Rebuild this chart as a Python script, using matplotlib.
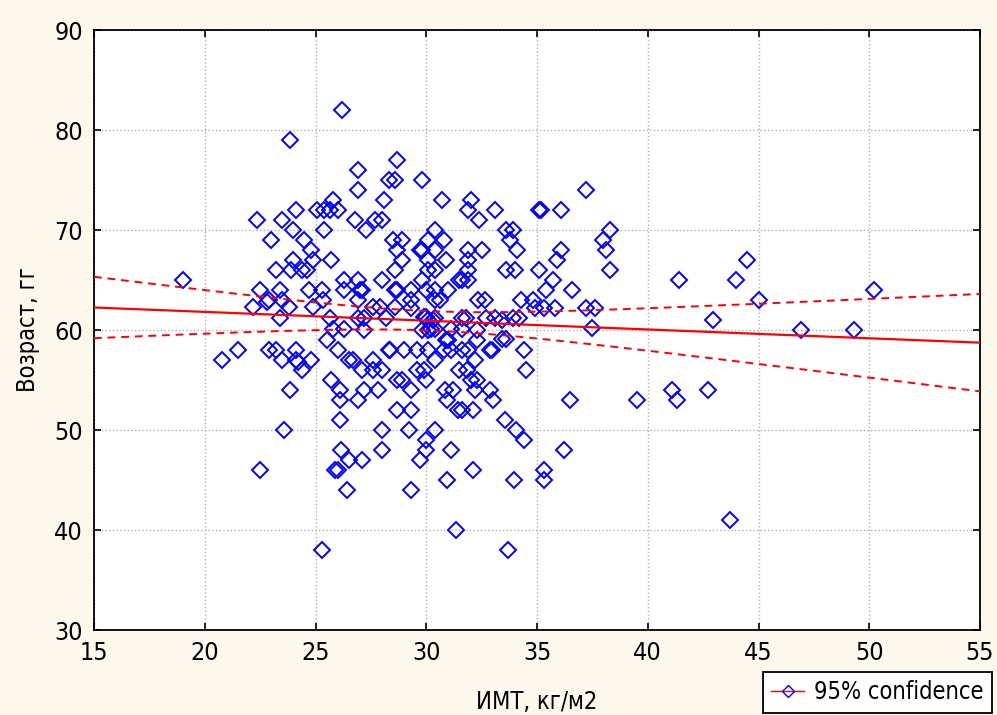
import numpy as np
import matplotlib
matplotlib.use("Agg")
from matplotlib import pyplot as plt
from matplotlib.lines import Line2D

# ИМТ (x) / возраст (y)
imt = [28.7, 26.9, 28.3, 28.6, 29.8, 26.9, 28.1, 25.8, 25.05, 25.4, 25.65, 26.0, 24.1,
       22.35, 23.5, 26.8, 27.7, 28.0, 24.0, 25.4, 27.3, 29.7, 29.8, 23.0, 24.5, 28.5,
       28.9, 24.8, 28.7, 24.0, 24.9, 25.7, 28.9, 23.2, 23.9, 24.4, 24.6, 28.6, 29.8,
       26.3, 26.9, 28.0, 22.5, 23.4, 24.7, 25.3, 26.3, 27.0, 27.1, 28.6, 28.7, 29.3,
       22.9, 23.5, 25.35, 26.9, 29.3, 22.2, 23.8, 24.9, 27.6, 27.9, 28.6, 23.4, 25.65,
       26.9, 27.2, 28.2, 29.9, 30.0, 26.3, 25.8, 27.2, 25.5, 29.8, 30.1, 22.8,
       20.8, 21.5, 22.9, 23.2, 24.1, 23.5, 24.1, 24.2, 24.8, 24.4, 23.85, 23.6, 22.5,
       25.3, 26.0, 26.5, 26.7, 27.6, 27.1, 27.6, 28.0, 28.3, 28.35, 29.0, 29.6, 30.1,
       25.7, 26.1, 27.2, 27.8, 26.1, 26.9, 28.7, 28.9, 29.6, 29.9, 30.0, 29.3, 26.1,
       28.7, 29.3, 28.0, 29.2, 30.0, 30.0, 26.15, 28.0, 26.5, 27.1, 29.7, 25.9, 26.0,
       26.4, 29.3,
       30.7, 32.0, 31.9, 33.1, 32.4, 35.1, 35.2, 36.1, 37.2, 30.4, 33.6, 33.9, 38.3,
       30.1, 30.8, 33.8, 38.0, 30.4, 31.9, 32.5, 34.1, 36.1, 38.1, 30.1, 30.9, 31.9,
       35.9, 30.1, 30.4, 31.9, 33.6, 34.0, 35.1, 38.3, 31.5, 31.6, 31.9, 35.7, 30.0,
       30.4, 31.0, 35.4, 36.6, 30.4, 30.6, 32.35, 32.65, 34.3, 34.8, 34.9, 35.3, 35.8,
       37.2, 37.6, 29.3, 30.4, 31.6, 31.8, 32.7, 33.1, 33.9, 34.2, 37.5, 30.4, 31.1,
       31.6, 31.0, 32.3, 33.4, 33.6,
       30.8, 31.1, 31.6, 31.9, 32.9, 32.95, 34.4, 32.2, 30.4, 31.5, 31.85, 32.0, 32.3,
       34.5, 30.85, 31.2, 32.2, 32.9, 30.95, 33.0, 36.5, 39.5, 31.45, 31.6, 32.1,
       33.55, 34.05, 30.4, 34.4, 31.1, 36.2, 32.1, 35.3, 30.95, 33.95, 35.3, 31.35,
       33.7,
       41.4, 41.1, 41.3, 42.7, 42.95, 44.0, 44.5, 45.0, 43.7, 46.9, 49.3, 50.2,
       23.85, 19.0, 26.2, 30.1, 30.3, 30.2, 32.3, 33.4, 30.9]

age = [77, 76, 75, 75, 75, 74, 73, 73, 72, 72, 72, 72, 72,
       71, 71, 71, 71, 71, 70, 70, 70, 68, 68, 69, 69, 69,
       69, 68, 68, 67, 67, 67, 67, 66, 66, 66, 66, 66, 65,
       65, 65, 65, 64, 64, 64, 64, 64, 64, 64, 64, 64, 64,
       63, 63, 63, 63, 63, 62.3, 62.3, 62.3, 62.3, 62.3, 62.3, 61.2, 61.2,
       61.2, 61.2, 61.2, 61.3, 61.3, 60.1, 60.1, 60, 59, 60, 60, 62.8,
       57, 58, 58, 58, 58, 57, 57, 56.8, 57, 56, 54, 50, 46,
       38, 58, 57, 57, 57, 56, 56, 56, 58, 58, 58, 58, 58,
       55, 54, 54, 54, 53, 53, 55, 55, 56, 56, 55, 54, 51,
       52, 52, 50, 50, 49, 48, 48, 48, 47, 47, 47, 46, 46,
       44, 44,
       73, 73, 72, 72, 71, 72, 72, 72, 74, 70, 70, 70, 70,
       69, 69, 69, 69, 68, 68, 68, 68, 68, 68, 67, 67, 67,
       67, 66, 66, 66, 66, 66, 66, 66, 65, 65, 65, 65, 64,
       64, 64, 64, 64, 63, 63, 63, 63, 63, 63, 62.2, 62.2, 62.2,
       62.2, 62.2, 62.2, 61.2, 61.2, 61.2, 61.2, 61.2, 61.2, 61.2, 60.2, 60.1, 60.1,
       60.1, 59, 59, 59.1, 59.1,
       58, 58, 58, 58, 58, 58, 58, 57, 57, 56, 56, 55, 55,
       56, 54, 54, 54, 54, 53, 53, 53, 53, 52, 52, 52,
       51, 50, 50, 49, 48, 48, 46, 46, 45, 45, 45, 40,
       38,
       65, 54, 53, 54, 61, 65, 67, 63, 41, 60, 60, 64,
       79, 65, 82, 61, 61, 60.1, 60, 61, 59]

x = np.array(imt)
y = np.array(age)

# linear fit + 95% band
b, a = np.polyfit(x, y, 1)
n = len(x)
resid = y - (a + b * x)
s = np.sqrt(np.sum(resid ** 2) / (n - 2))
sxx = np.sum((x - x.mean()) ** 2)
xx = np.linspace(15, 55, 200)
yy = a + b * xx
half = 1.97 * s * np.sqrt(1.0 / n + (xx - x.mean()) ** 2 / sxx)

plt.rcParams['font.family'] = ['DejaVu Sans']
plt.rcParams['font.stretch'] = 'condensed'

fig = plt.figure(figsize=(9.97, 7.15), dpi=100, facecolor='#fdf8ec')
ax = fig.add_axes([94 / 997, 85 / 715, 886 / 997, 600 / 715])
ax.set_facecolor('white')

ax.plot(x, y, linestyle='none', marker='D', markersize=8.5, markerfacecolor='none',
        markeredgecolor='#0000ff', markeredgewidth=1.4, zorder=3)
ax.plot(xx, yy, color='red', lw=1.6, zorder=4)
ax.plot(xx, yy + half, color='red', lw=1.4, ls=(0, (4, 3)), zorder=4)
ax.plot(xx, yy - half, color='red', lw=1.4, ls=(0, (4, 3)), zorder=4)

ax.set_xlim(15, 55)
ax.set_ylim(30, 90)
ax.set_xticks(np.arange(15, 56, 5))
ax.set_yticks(np.arange(30, 91, 10))
ax.grid(True, color='#b0b0b0', linestyle=':', linewidth=1)
ax.tick_params(direction='in', length=5, width=1.2, labelsize=18, top=True, right=True,
               pad=8)
for sp in ax.spines.values():
    sp.set_linewidth(1.3)

ax.set_xlabel('ИМТ, кг/м2', fontsize=17, labelpad=18)
ax.set_ylabel('Возраст, гг', fontsize=17, labelpad=10)

handle = Line2D([0], [0], color='red', lw=1, marker='D', markersize=6,
                markerfacecolor='none', markeredgecolor='#0000ff')
leg = fig.legend([handle], ['95% confidence'], loc='lower right',
                 bbox_to_anchor=(0.997, 0.0), fontsize=17, fancybox=False,
                 framealpha=1, edgecolor='black', handlelength=1.4,
                 borderpad=0.35, handletextpad=0.4, borderaxespad=0.1)
leg.get_frame().set_linewidth(1.3)

fig.savefig('out.png', dpi=100, facecolor=fig.get_facecolor())
